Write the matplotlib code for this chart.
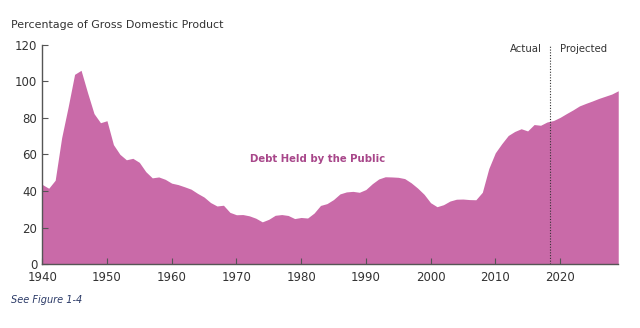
import numpy as np
import matplotlib
matplotlib.use("Agg")
import matplotlib.pyplot as plt

years = list(range(1940, 2030))
debt = [43.6, 41.5, 45.9, 69.2, 86.0, 103.9, 106.1, 93.9, 82.4, 77.4,
        78.5, 65.4, 60.1, 57.1, 57.9, 55.7, 50.6, 47.2, 47.7, 46.4,
        44.3, 43.5, 42.3, 41.0, 38.7, 36.7, 33.7, 31.8, 32.2, 28.3,
        27.0, 27.1, 26.4, 25.1, 23.1, 24.5, 26.7, 27.1, 26.6, 24.9,
        25.5, 25.2, 27.9, 32.1, 33.1, 35.3, 38.4, 39.5, 39.8, 39.3,
        40.8, 44.0, 46.6, 47.8, 47.7, 47.5, 46.8, 44.5, 41.6, 38.2,
        33.6, 31.4, 32.5, 34.5, 35.5, 35.6, 35.3, 35.2, 39.3, 52.3,
        60.9, 65.9, 70.4, 72.6, 74.1, 72.9, 76.4, 76.0, 77.8, 78.6,
        80.3, 82.4, 84.4, 86.6, 88.0, 89.3, 90.7, 91.9, 93.1, 94.9]
x_ticks = [1940, 1950, 1960, 1970, 1980, 1990, 2000, 2010, 2020]
y_ticks = [0, 20, 40, 60, 80, 100, 120]
split_year = 2018.5

fill_color = "#C96AA8"
label_color = "#A8478A"
axis_color = "#555555"

fig = plt.figure(figsize=(6.4, 3.28), dpi=100)
ax = fig.add_axes([0.066, 0.195, 0.9, 0.668])

ax.fill_between(years, debt, 0, color=fill_color, linewidth=0)
ax.axvline(split_year, color="#333333", linestyle=(0, (1, 1.5)), linewidth=0.8)

ax.set_xlim(1940, 2029)
ax.set_ylim(0, 120)
ax.set_xticks(x_ticks)
ax.set_yticks(y_ticks)
ax.tick_params(direction="in", length=4, color=axis_color, labelsize=8.5,
               labelcolor="#333333", width=0.8)
ax.tick_params(axis="x", pad=5)
for s in ["top", "right"]:
    ax.spines[s].set_visible(False)
for s in ["left", "bottom"]:
    ax.spines[s].set_color(axis_color)
    ax.spines[s].set_linewidth(1.0)

ax.text(1982.6, 57.5, "Debt Held by the Public", color=label_color,
        fontsize=7.3, fontweight="bold", ha="center", va="center")
ax.text(2017.2, 118, "Actual", fontsize=7.3, color="#333333", ha="right", va="center")
ax.text(2020.0, 118, "Projected", fontsize=7.3, color="#333333", ha="left", va="center")

fig.text(0.017, 0.925, "Percentage of Gross Domestic Product", fontsize=7.9,
         color="#333333", ha="left", va="center")
fig.text(0.017, 0.085, "See Figure 1-4", fontsize=7, style="italic",
         color="#2B3A67", ha="left", va="center")

fig.savefig("out.png", dpi=100)
